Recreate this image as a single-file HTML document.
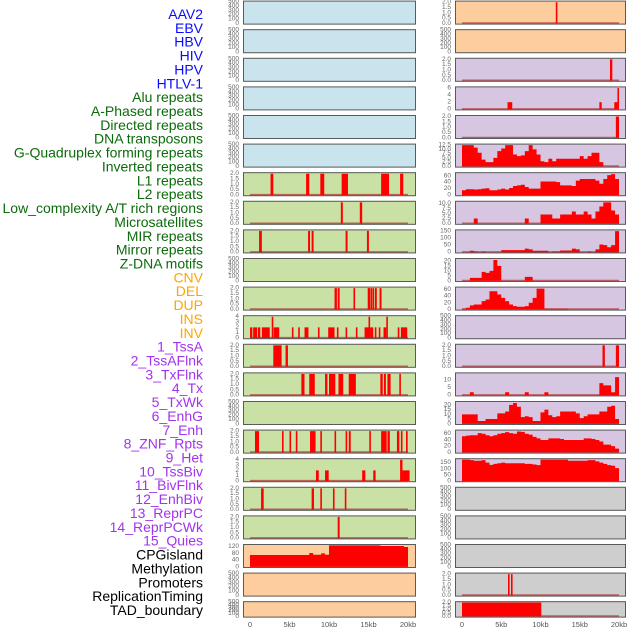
<!DOCTYPE html>
<html><head><meta charset="utf-8"><style>
html,body{margin:0;padding:0;background:#fff;}
svg{display:block;font-family:"Liberation Sans",sans-serif;}
</style></head><body>
<svg id="chart" width="630" height="630" viewBox="0 0 630 630" xmlns="http://www.w3.org/2000/svg">
<g id="labels"></g>
<g id="panels"></g>
<g id="xaxes"></g>
</svg>
<script>
const trackLabels = ["AAV2","EBV","HBV","HIV","HPV","HTLV-1","Alu repeats","A-Phased repeats","Directed repeats","DNA transposons","G-Quadruplex forming repeats","Inverted repeats","L1 repeats","L2 repeats","Low_complexity A/T rich regions","Microsatellites","MIR repeats","Mirror repeats","Z-DNA motifs","CNV","DEL","DUP","INS","INV","1_TssA","2_TssAFlnk","3_TxFlnk","4_Tx","5_TxWk","6_EnhG","7_Enh","8_ZNF_Rpts","9_Het","10_TssBiv","11_BivFlnk","12_EnhBiv","13_ReprPC","14_ReprPCWk","15_Quies","CPGisland","Methylation","Promoters","ReplicationTiming","TAD_boundary"];
const labelGroups = ["v","v","v","v","v","v","r","r","r","r","r","r","r","r","r","r","r","r","r","s","s","s","s","s","c","c","c","c","c","c","c","c","c","c","c","c","c","c","c","o","o","o","o","o"];
const xTickLabels = ["0","5kb","10kb","15kb","20kb"];
const xTickValues = [0,5,10,15,20];

const segAlu = [[2.6,2.95,2],[7.1,7.5,2],[8.9,9.4,2],[11.6,12.4,2],[16.6,17.6,2],[19.0,19.4,2]];
const segAPhased = [[11.5,11.75,2],[13.9,14.2,2]];
const segDirected = [[1.15,1.5,2],[7.35,7.6,2],[7.8,8.05,2],[12.1,12.35,2],[14.8,15.05,2]];
const segGQuad = [[10.7,11.0,2],[11.1,11.35,2],[13.1,13.3,2],[14.9,15.2,2],[15.25,15.45,2],[15.5,15.7,2],[15.8,16.05,2],[16.4,16.65,2]];
const segInverted = [[0,0.3,2],[0.4,0.9,2],[1.0,1.3,2],[1.5,2.5,2],[2.75,2.9,4],[3.0,3.7,2],[5.3,5.5,2],[6.1,6.3,2],[6.9,7.4,2],[8.6,8.8,2],[9.9,10.7,2],[11.0,11.2,2],[12.1,12.3,2],[13.4,13.6,2],[14.5,15.0,2],[15.0,15.2,4],[15.2,15.6,2],[15.8,16.0,2],[16.3,16.5,2],[16.9,17.25,2],[17.25,17.4,4],[18.7,18.9,2],[19.1,19.9,2]];
const segL1 = [[2.95,4.0,2],[4.5,4.8,2]];
const segL2 = [[6.5,6.9,2],[7.5,8.2,2],[9.5,9.8,2],[10.0,10.8,2],[11.2,11.8,2],[12.5,13.4,2],[16.5,16.8,2],[16.95,17.2,2],[17.4,17.8,2],[18.9,19.07,2]];
const segMicrosat = [[0.63,1.14,2],[4.05,4.2,2],[5.0,5.2,2],[5.8,6.0,2],[7.6,8.3,2],[8.9,9.1,2],[10.7,10.9,2],[12.1,12.3,2],[12.5,12.75,2],[15.1,15.3,2],[16.6,17.3,2],[17.4,17.7,2],[18.6,18.9,2],[19.1,19.3,2],[19.75,19.96,2]];
const segMIR = [[8.35,8.7,2],[9.5,9.96,2],[14.2,14.6,2],[15.6,15.9,2],[19.0,19.3,4],[19.3,20.2,2]];
const segMirror = [[1.4,1.73,2],[7.8,8.1,2],[8.9,9.1,2],[10.5,10.7,2],[12.0,12.2,2]];
const segZDNA = [[11.1,11.35,2]];
const segINS = [[11.95,12.15,2]];
const segTssA = [[18.85,19.15,2]];
const segTssAFlnk = [[5.8,6.4,2],[17.5,17.8,2],[19.4,19.8,2],[19.8,20.0,6]];
const segTxFlnk = [[19.6,20.0,2]];
const segHet = [[17.9,18.2,2],[19.6,20.0,2]];
const segPromoters = [[5.86,6.0,2],[6.24,6.4,2]];
const segTAD = [[0,10.1,2]];

const binCNV = [70,70,70,70,70,70,70,70,70,70,70,70,70,70,70,82,72,72,80,72,128,128,128,128,128,128,128,128,128,128,128,128,128,124,124,124,124,124,124,118];
const binTx = [12.5,12.5,12.5,11,8,4,2.5,2.5,5,9,10.5,12.5,12.5,7,6,6.5,9,12.5,10,7,3,2.5,4.5,3,4.5,4.5,4.5,4.5,4.5,4.5,6,4.5,6,8,8,2.5,0,0,0,0];
const binTxWk = [15,18,18,17,18,20,21,15,15,17,20,17,22,28,30,32,25,20,20,20,42,42,42,42,40,30,30,30,28,45,50,50,50,50,45,35,50,62,65,50];
const binEnhG = [0,0,0,2.5,0,0,0,0,0,0,0,0,0,0,0,0,2.5,0,0,0,4.5,4.5,4.5,2.5,2.5,4.5,4.5,4.5,6,4.5,4.5,6,4.5,2.5,6,8.5,10.5,10.5,6.5,4.5];
const binEnh = [0,0,10,5,0,5,0,0,0,0,15,15,15,15,15,15,25,20,10,10,10,10,0,5,5,12,12,12,25,20,0,0,5,0,20,55,50,35,50,150];
const binZNF = [0,0,3,3,3,9,8,10,21,15,0,0,0,0,0,0,4,4,0,0,0,0,0,0,0,0,0,0,0,0,0,0,0,0,0,0,0,0,0,0];
const binHetAlt = [2,5,12,15,15,25,30,55,55,45,35,25,15,10,8,8,10,20,35,63,63,2,2,2,2,2,2,0,0,0,0,0,0,0,0,0,0,0,0,0];
const binBivFlnk = [0,0,2,0,0,0,0,0,0,0,0,2,0,0,0,0,2,0,0,0,0,2,0,0,0,0,0,0,0,0,0,0,0,0,0,8,6.5,6.5,2,12];
const binEnhBiv = [10,10,10,10,3,3,5,5,5,11,11,13,20,22,18,7,8,7,3,3,12,15,9,7,8,13,13,13,13,11,6,8,10,10,10,13,13,18,19,5];
const binReprPC = [52,54,55,55,62,60,55,52,55,60,62,65,62,60,67,66,60,57,50,45,40,40,45,45,45,43,40,40,40,40,40,45,45,43,40,35,25,25,20,12];
const binReprPCWk = [175,175,170,165,165,170,150,132,140,145,150,145,145,145,145,145,140,140,135,130,175,175,175,175,175,175,175,165,165,165,165,165,170,170,160,150,140,130,125,105];

const ticksEmpty = ["0","100","200","300","400","500"];
const ticksTwo = ["0.0","0.5","1.0","1.5","2.0"];
const ticksFour = ["0","1","2","3","4"];
const ticksSix = ["0","2","4","6"];
const ticksTwelve = ["0.0","2.5","5.0","7.5","10.0","12.5"];
const ticksSixty = ["0","20","40","60"];
const ticksTen = ["0.0","2.5","5.0","7.5","10.0"];
const ticks150 = ["0","50","100","150"];
const ticks20 = ["0","5","10","15","20"];
const ticksTen5 = ["0","5","10"];
const ticks120 = ["0","40","80","120"];

const BG = {v:"#c9e4ec", r:"#c9e1a5", s:"#fecd9d", c:"#d7c6e2", o:"#cecece"};
const panels = [
 [0,0,"v",500,ticksEmpty,"none",null],[0,1,"v",500,ticksEmpty,"none",null],[0,2,"v",500,ticksEmpty,"none",null],
 [0,3,"v",500,ticksEmpty,"none",null],[0,4,"v",500,ticksEmpty,"none",null],[0,5,"v",500,ticksEmpty,"none",null],
 [0,6,"r",2.05,ticksTwo,"seg",segAlu],[0,7,"r",2.05,ticksTwo,"seg",segAPhased],[0,8,"r",2.05,ticksTwo,"seg",segDirected],
 [0,9,"r",500,ticksEmpty,"none",null],[0,10,"r",2.05,ticksTwo,"seg",segGQuad],[0,11,"r",4.1,ticksFour,"seg",segInverted],
 [0,12,"r",2.05,ticksTwo,"seg",segL1],[0,13,"r",2.05,ticksTwo,"seg",segL2],[0,14,"r",500,ticksEmpty,"none",null],
 [0,15,"r",2.05,ticksTwo,"seg",segMicrosat],[0,16,"r",4.1,ticksFour,"seg",segMIR],[0,17,"r",2.05,ticksTwo,"seg",segMirror],
 [0,18,"r",2.05,ticksTwo,"seg",segZDNA],[0,19,"s",130,ticks120,"bin",binCNV],[0,20,"s",500,ticksEmpty,"none",null],
 [0,21,"s",500,ticksEmpty,"none",null],
 [1,0,"s",2.05,ticksTwo,"seg",segINS],[1,1,"s",500,ticksEmpty,"none",null],[1,2,"c",2.05,ticksTwo,"seg",segTssA],
 [1,3,"c",6.2,ticksSix,"seg",segTssAFlnk],[1,4,"c",2.05,ticksTwo,"seg",segTxFlnk],[1,5,"c",12.8,ticksTwelve,"bin",binTx],
 [1,6,"c",68,ticksSixty,"bin",binTxWk],[1,7,"c",10.8,ticksTen,"bin",binEnhG],[1,8,"c",155,ticks150,"bin",binEnh],
 [1,9,"c",22,ticks20,"bin",binZNF],[1,10,"c",66,ticksSixty,"bin",binHetAlt],[1,11,"c",500,ticksEmpty,"none",null],
 [1,12,"c",2.05,ticksTwo,"seg",segHet],[1,13,"c",14.5,ticksTen5,"bin",binBivFlnk],[1,14,"c",23,ticks20,"bin",binEnhBiv],
 [1,15,"c",70,ticksSixty,"bin",binReprPC],[1,16,"c",178,ticks150,"bin",binReprPCWk],[1,17,"o",500,ticksEmpty,"none",null],
 [1,18,"o",500,ticksEmpty,"none",null],[1,19,"o",500,ticksEmpty,"none",null],[1,20,"o",2.05,ticksTwo,"seg",segPromoters],
 [1,21,"o",2.05,ticksTwo,"seg",segTAD]
];

const NS = "http://www.w3.org/2000/svg";
function mk(tag, attrs, parent){const e=document.createElementNS(NS,tag);for(const k in attrs)e.setAttribute(k,attrs[k]);parent.appendChild(e);return e;}
const colX = [{left:243,right:416,x0:250,x20:408},{left:455,right:626,x0:462,x20:619}];
function xScale(c,kb){const C=colX[c];return C.x0+(C.x20-C.x0)*kb/20;}
function rowTop(r){return 0.6+r*28.6;}
function rowH(r){return r===21?16.4:24;}

const gLab = document.getElementById("labels");
const labColor = {v:"#0a0aff", r:"#0b6b0b", s:"#ffa500", c:"#a233ee", o:"#000"};
trackLabels.forEach((t,i)=>{
  const e = mk("text",{x:203,y:14+i*13.86,"text-anchor":"end","dominant-baseline":"central","font-size":"14",fill:labColor[labelGroups[i]]},gLab);
  
  
  e.textContent = t;
});

const gP = document.getElementById("panels");
panels.forEach(p=>{
  const [c,r,bg,ymax,ticks,kind,data]=p;
  const C=colX[c], top=rowTop(r), h=rowH(r), bot=top+h;
  const g = mk("g",{},gP);
  
  
  const pTop=top+1, pBot=bot-1.2;
  const yS = v => pBot-(pBot-pTop)*v/ymax;
  mk("rect",{x:C.left,y:top,width:C.right-C.left,height:h,fill:BG[bg]},g);
  ticks.forEach(t=>{
    const v=parseFloat(t);
    const tl = mk("text",{x:C.left-4,y:yS(v),"text-anchor":"end","dominant-baseline":"central","font-size":"6.5",fill:"#666"},g);
    
    
    tl.textContent=t;
  });
  if(kind!=="none"){
    mk("line",{x1:xScale(c,0),x2:xScale(c,20),y1:pBot-0.3,y2:pBot-0.3,stroke:"#b03030","stroke-width":1.6,"stroke-opacity":0.7},g);
  }
  if(kind==="seg"){
    data.forEach(s=>{
      const x1=xScale(c,s[0]), x2=Math.max(xScale(c,s[1]),x1+1.6);
      const b = mk("rect",{x:x1,y:yS(s[2]),width:x2-x1,height:pBot-yS(s[2]),fill:"#ff0000"},g);
      
      
    });
  } else if(kind==="bin"){
    let d="M"+xScale(c,0)+","+pBot;
    data.forEach((v,i)=>{
      const xa=xScale(c,i*0.5), xb=xScale(c,(i+1)*0.5), y=yS(Math.min(v,ymax));
      d+=" L"+xa+","+y+" L"+xb+","+y;
    });
    d+=" L"+xScale(c,20)+","+pBot+" Z";
    const a = mk("path",{d:d,fill:"#ff0000"},g);
    
    
  }
  mk("rect",{x:C.left+0.5,y:top+0.5,width:C.right-C.left-1,height:h-1,fill:"none",stroke:"#5a5a5a","stroke-width":1},g);
});

const gX = document.getElementById("xaxes");
[0,1].forEach(c=>{
  xTickValues.forEach((v,i)=>{
    const t = mk("text",{x:xScale(c,v),y:627,"text-anchor":"middle","font-size":"7.5",fill:"#555"},gX);
    
    
    t.textContent=xTickLabels[i];
  });
});
</script>
</body></html>
